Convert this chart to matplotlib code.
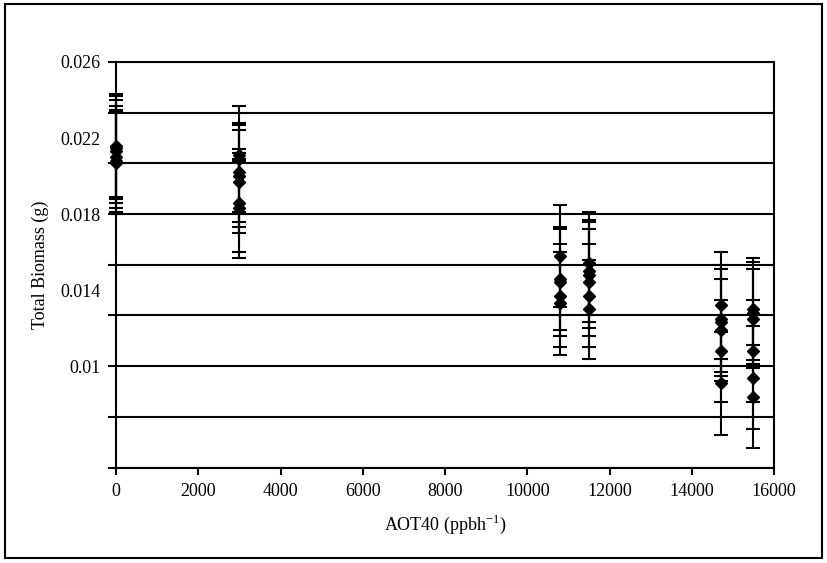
import numpy as np
import matplotlib
matplotlib.use("Agg")
import matplotlib.pyplot as plt
from matplotlib.patches import Rectangle

plt.rcParams['font.family'] = ['Liberation Serif', 'DejaVu Serif']

# AOT40 treatments and per-replicate biomass (mean, error)
aot40 = [0, 3000, 10800, 11500, 14700, 15500]
biomass = [
    [0.0216, 0.0215, 0.0213, 0.0210, 0.0208, 0.0207],
    [0.0211, 0.0209, 0.0202, 0.0200, 0.0197, 0.0186, 0.0183],
    [0.0158, 0.0146, 0.0144, 0.0137, 0.0133],
    [0.0154, 0.0150, 0.0148, 0.0144, 0.0137, 0.0130],
    [0.0132, 0.0125, 0.0123, 0.0119, 0.0108, 0.0091],
    [0.0130, 0.0128, 0.0125, 0.0108, 0.0094, 0.0084],
]
errors = [
    [0.0027, 0.0027, 0.0027, 0.0027, 0.0027, 0.0027],
    [0.0003, 0.0028, 0.0026, 0.0027, 0.0027, 0.0026, 0.0026],
    [0.0027, 0.0027, 0.0028, 0.0027, 0.0027],
    [0.0027, 0.0027, 0.0028, 0.0028, 0.0027, 0.0026],
    [0.0028, 0.0028, 0.0028, 0.0027, 0.0027, 0.0027],
    [0.0027, 0.0027, 0.0026, 0.0027, 0.0027, 0.0027],
]

x_ticks = [0, 2000, 4000, 6000, 8000, 10000, 12000, 14000, 16000]
y_labels = ["0.026", "0.022", "0.018", "0.014", "0.01"]
y_label_vals = [0.026, 0.022, 0.018, 0.014, 0.010]
y_top = 0.026
y_step = 0.008 / 3
y_grid = [y_top - i * y_step for i in range(9)]

fig = plt.figure(figsize=(8.28, 5.63), dpi=100)
ax = fig.add_axes([116 / 828, 1 - 467.5 / 563, 658 / 828, 405.5 / 563])

for x, ms, es in zip(aot40, biomass, errors):
    ax.errorbar([x] * len(ms), ms, yerr=es, fmt='D', color='black',
                markersize=6.5, elinewidth=1.5, capsize=5, capthick=1.5,
                zorder=3, clip_on=False)

ax.set_xlim(0, 16000)
ax.set_ylim(y_grid[-1], y_top)
ax.set_xticks(x_ticks)
ax.set_xticklabels([str(t) for t in x_ticks])

# tick marks sit on the grid lines, labels are placed at their own values
ax.set_yticks(y_grid)
ax.set_yticklabels([''] * len(y_grid))
ax.yaxis.remove_overlapping_locs = False
ax.set_yticks(y_label_vals, minor=True)
ax.set_yticklabels(y_labels, minor=True)
ax.tick_params(axis='y', which='minor', length=0, pad=11)
ax.tick_params(axis='y', which='major', length=6, width=1.5)
ax.tick_params(axis='x', which='major', length=5, width=1.5, pad=6)
ax.tick_params(which='both', labelsize=13, colors='black')

ax.yaxis.grid(True, which='major', color='black', linewidth=1.5)
ax.set_axisbelow(True)
for s in ax.spines.values():
    s.set_linewidth(1.5)
    s.set_color('black')

ax.set_xlabel(r'AOT40 (ppbh$^{\mathregular{-1}}$)', fontsize=13, labelpad=9)
ax.set_ylabel('Total Biomass (g)', fontsize=13, labelpad=8)

fig.patches.append(Rectangle((5 / 828, 1 - 558 / 563), 817 / 828, 554 / 563,
                             transform=fig.transFigure, fill=False,
                             edgecolor='black', linewidth=1.5))

fig.savefig('out.png', dpi=100)
